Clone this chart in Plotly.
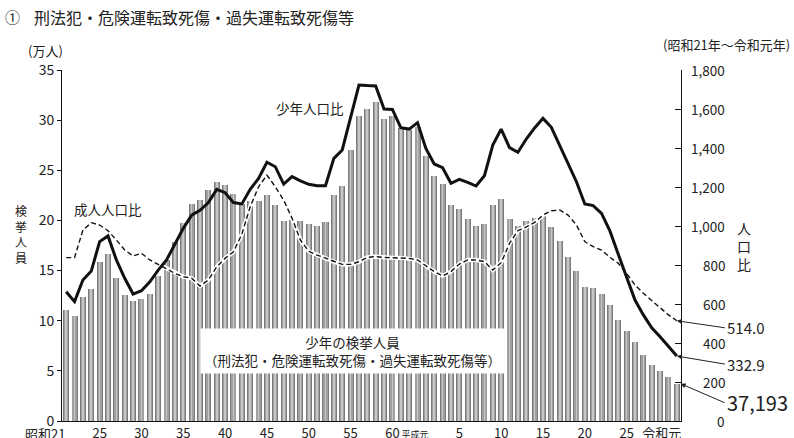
import plotly.graph_objects as go

# ---------------- data ----------------
years = list(range(1946, 2020))  # 昭和21年 ～ 令和元年

# 少年の検挙人員 (万人)
arrests = [11.1, 10.5, 12.4, 13.2, 15.9, 16.7, 14.3, 12.6, 12.0, 12.2,
           12.7, 14.5, 16.1, 17.8, 19.7, 21.6, 22.0, 23.0, 23.85, 23.55,
           22.65, 21.6, 21.9, 21.9, 22.55, 21.5, 19.9, 20.0, 19.9, 19.66,
           19.4, 19.8, 22.5, 23.4, 27.05, 30.4, 31.1, 31.8, 30.1, 30.4,
           29.2, 29.0, 29.3, 26.45, 24.45, 23.65, 21.55, 21.15, 20.15, 19.4,
           19.65, 21.55, 22.15, 20.15, 19.4, 19.9, 20.2, 20.4, 19.3, 17.9,
           16.4, 15.0, 13.35, 13.25, 12.65, 11.6, 10.1, 9.0, 7.9, 6.6,
           5.6, 5.0, 4.4, 3.7193]

# 少年人口比
juvenile_rate = [663, 612, 723, 769, 920, 949, 826, 732, 651, 668,
                 714, 774, 826, 911, 988, 1056, 1080, 1120, 1188, 1171,
                 1120, 1113, 1188, 1244, 1327, 1304, 1215, 1253, 1231, 1214,
                 1207, 1207, 1347, 1390, 1561, 1723, 1720, 1718, 1600, 1598,
                 1504, 1497, 1530, 1398, 1318, 1299, 1219, 1239, 1224, 1205,
                 1258, 1415, 1497, 1402, 1378, 1446, 1503, 1552, 1506, 1415,
                 1321, 1227, 1113, 1105, 1065, 975, 855, 732, 620, 544,
                 478, 432, 381, 332.9]

# 成人人口比
adult_rate = [838, 838, 979, 1017, 1005, 976, 928, 877, 846, 860,
              826, 803, 783, 757, 740, 732, 692, 723, 791, 834,
              868, 958, 1099, 1201, 1261, 1201, 1133, 1040, 928, 870,
              851, 834, 817, 803, 803, 817, 839, 843, 839, 837,
              837, 834, 826, 796, 766, 744, 766, 805, 826, 826,
              817, 774, 812, 911, 976, 995, 1018, 1056, 1078, 1082,
              1056, 1005, 920, 894, 877, 839, 809, 757, 697, 655,
              617, 578, 544, 514.0]

x_tick_vals = [1950, 1955, 1960, 1965, 1970, 1975, 1980, 1985, 1987.7,
               1993, 1998, 2003, 2008, 2013, 2017.2]
x_tick_text = ["25", "30", "35", "40", "45", "50", "55", "60",
               "<span style='font-size:9px'>平成元</span>",
               "5", "10", "15", "20", "25", "令和元"]
first_year_label = "昭和21"

left_ticks = [0, 5, 10, 15, 20, 25, 30, 35]
right_ticks = [0, 200, 400, 600, 800, 1000, 1200, 1400, 1600, 1800]
right_tick_text = ["0", "200", "400", "600", "800", "1,000", "1,200",
                   "1,400", "1,600", "1,800"]

# ---------------- layout helpers ----------------
W, H = 794, 438
PL, PR, PT, PB = 62, 680.7, 70, 421   # plot area in pixels


def px(xp):
    return (xp - PL) / (PR - PL)


def py(yp):
    return (PB - yp) / (PB - PT)


FONT = "Noto Sans CJK JP, Noto Sans, sans-serif"
TXT = "#222222"

fig = go.Figure()

# bars with a cylinder-like shading (three layers drawn in place)
for w, c in [(0.72, "#7a7a7a"), (0.5, "#a0a0a0"), (0.2, "#c6c6c6")]:
    fig.add_trace(go.Bar(x=years, y=arrests, width=w, marker_color=c,
                         marker_line_width=0, showlegend=False,
                         hoverinfo="skip"))

# adult rate: white halo + dashed line
fig.add_trace(go.Scatter(x=years, y=adult_rate, yaxis="y2", mode="lines",
                         line=dict(color="white", width=4.2),
                         showlegend=False, hoverinfo="skip"))
fig.add_trace(go.Scatter(x=years, y=adult_rate, yaxis="y2", mode="lines",
                         line=dict(color="#111111", width=1.4,
                                   dash="5px,3px"),
                         name="成人人口比", showlegend=False))
# juvenile rate: thick solid line
fig.add_trace(go.Scatter(x=years, y=juvenile_rate, yaxis="y2", mode="lines",
                         line=dict(color="#111111", width=3),
                         name="少年人口比", showlegend=False))

ann = []


def text(xp, yp, t, size=13.5, xanchor="center", yanchor="middle", **kw):
    ann.append(dict(x=px(xp), y=py(yp), xref="paper", yref="paper", text=t,
                    showarrow=False, xanchor=xanchor, yanchor=yanchor,
                    font=dict(size=size, color=TXT, family=FONT), **kw))


text(3, 17, "①", size=15, xanchor="left")
text(32, 17, "刑法犯・危険運転致死傷・過失運転致死傷等", size=16, xanchor="left")
text(792, 45, "(昭和21年～令和元年)", size=13, xanchor="right")
text(46, 50, "(万人)", size=13)
text(21, 234, "検<br>挙<br>人<br>員", size=12)
text(744, 246, "人<br>口<br>比", size=14)
text(310, 108, "少年人口比", size=13.5)
text(108, 209, "成人人口比", size=13.5)
text(352, 351, "少年の検挙人員<br>（刑法犯・危険運転致死傷・過失運転致死傷等）",
     size=13.5, bgcolor="white", borderpad=3)

# right axis tick labels (right aligned as in the original)
for v, t in zip(right_ticks, right_tick_text):
    ann.append(dict(x=px(727), y=v, xref="paper", yref="y2", text=t,
                    showarrow=False, xanchor="right", yanchor="middle",
                    font=dict(size=13.5, color=TXT, family=FONT)))

# first x label (right-aligned under the first bar)
ann.append(dict(x=1946.15, y=0, xref="x", yref="paper", text=first_year_label,
                showarrow=False, xanchor="right", yanchor="top", yshift=-1,
                font=dict(size=13, color=TXT, family=FONT)))

# end value call-outs
arrow = dict(showarrow=True, arrowhead=2, arrowsize=1, arrowwidth=1,
             arrowcolor=TXT, axref="pixel", ayref="pixel", xanchor="left")
ann.append(dict(x=years[-1], y=adult_rate[-1], xref="x", yref="y2",
                text=f"{adult_rate[-1]:.1f}", ax=48, ay=7,
                font=dict(size=15, color=TXT, family=FONT), **arrow))
ann.append(dict(x=years[-1], y=juvenile_rate[-1], xref="x", yref="y2",
                text=f"{juvenile_rate[-1]:.1f}", ax=48, ay=8,
                font=dict(size=15, color=TXT, family=FONT), **arrow))
ann.append(dict(x=years[-1] + 0.45, y=arrests[-1], xref="x", yref="y",
                text=f"{round(arrests[-1] * 10000):,}", ax=44, ay=19,
                font=dict(size=20, color=TXT, family=FONT), **arrow))

fig.update_layout(
    width=W, height=H, autosize=False,
    margin=dict(l=PL, r=W - PR, t=PT, b=H - PB, pad=0, autoexpand=False),
    paper_bgcolor="white", plot_bgcolor="white",
    barmode="overlay", bargap=0,
    font=dict(family=FONT, color=TXT),
    xaxis=dict(range=[1945.5, 2019.5], showline=True, linecolor="#111111",
               linewidth=1, ticks="", showgrid=False, zeroline=False,
               tickvals=x_tick_vals, ticktext=x_tick_text, tickangle=0,
               automargin=False,
               tickfont=dict(size=13, color=TXT, family=FONT)),
    yaxis=dict(range=[0, 35], tickvals=left_ticks, showline=True,
               linecolor="#111111", linewidth=1, ticks="outside",
               ticklen=4, tickcolor="#111111", showgrid=False,
               zeroline=False, automargin=False,
               tickfont=dict(size=14, color=TXT, family=FONT)),
    yaxis2=dict(range=[0, 1800], overlaying="y", side="right",
                tickvals=right_ticks, showticklabels=False, showline=True,
                linecolor="#111111", linewidth=1, ticks="inside", ticklen=6,
                tickcolor="#111111", showgrid=False, zeroline=False,
                automargin=False),
    annotations=ann,
)

fig.write_html(
    "out.html",
    config={"displayModeBar": False, "staticPlot": True},
    post_script="document.body.style.margin='0';"
                "document.body.style.overflow='hidden';",
)
